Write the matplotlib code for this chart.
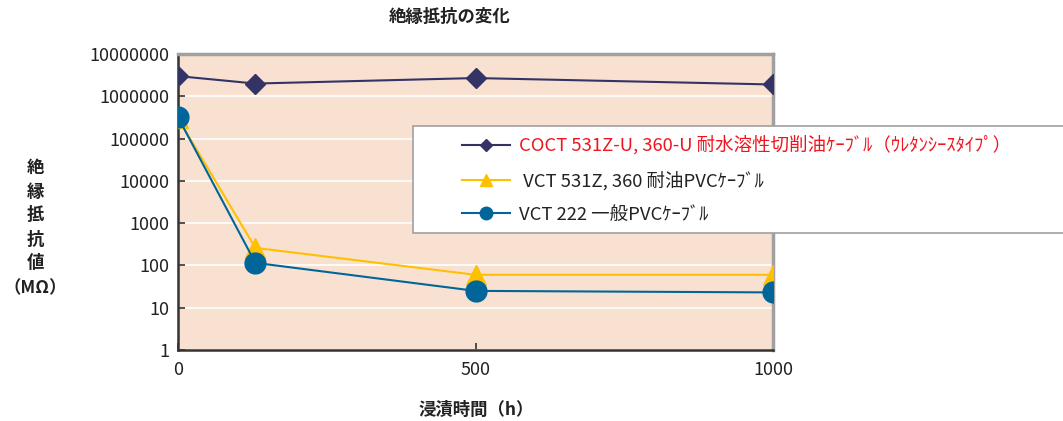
import matplotlib
matplotlib.use('Agg')
import matplotlib.pyplot as plt
from matplotlib.patches import Rectangle
from matplotlib.ticker import FixedLocator, FixedFormatter

plt.rcParams['font.family'] = ['Noto Sans CJK JP', 'DejaVu Sans']

hours = [0, 130, 500, 1000]
coct = [3000000, 2000000, 2700000, 1900000]
vct531 = [300000, 260, 60, 60]
vct222 = [320000, 115, 25, 23]

labels = ['COCT 531Z-U, 360-U 耐水溶性切削油ｹｰﾌﾞﾙ（ｳﾚﾀﾝｼｰｽﾀｲﾌﾟ）',
          ' VCT 531Z, 360 耐油PVCｹｰﾌﾞﾙ',
          'VCT 222 一般PVCｹｰﾌﾞﾙ']
y_ticks = [1, 10, 100, 1000, 10000, 100000, 1000000, 10000000]
x_ticks = [0, 500, 1000]

W, H = 1063, 421
fig = plt.figure(figsize=(W / 100, H / 100), dpi=100)
ax = fig.add_axes([178 / W, 1 - 350 / H, 595 / W, 296 / H])
ax.set_facecolor('#F9E1D1')

ax.plot(hours, coct, color='#333366', lw=1.5, marker='D', ms=10, label=labels[0], zorder=3)
ax.plot(hours, vct531, color='#FFC000', lw=1.5, marker='^', ms=15, label=labels[1], zorder=3)
ax.plot(hours, vct222, color='#006699', lw=1.5, marker='o', ms=15, label=labels[2], zorder=4)

ax.set_yscale('log')
ax.set_ylim(1, 10000000)
ax.set_xlim(0, 1000)
ax.yaxis.set_major_locator(FixedLocator(y_ticks))
ax.yaxis.set_major_formatter(FixedFormatter([str(v) for v in y_ticks]))
ax.yaxis.set_minor_locator(FixedLocator([]))
ax.set_xticks(x_ticks)
ax.set_xticklabels([str(v) for v in x_ticks])
ax.tick_params(axis='both', direction='in', length=5, width=1.2, color='#333333',
               labelsize=13, labelcolor='#222222')
ax.tick_params(axis='x', pad=8)
ax.tick_params(axis='y', pad=6)
ax.grid(axis='y', color='white', lw=1.2)
ax.set_axisbelow(True)
for s in ['left', 'bottom']:
    ax.spines[s].set_color('#333333')
    ax.spines[s].set_linewidth(1.8)
for s in ['top', 'right']:
    ax.spines[s].set_color('#A0A0A0')
    ax.spines[s].set_linewidth(2.5)

fig.text(450 / W, 1 - 17 / H, '絶縁抵抗の変化', ha='center', va='center',
         fontsize=12.5, fontweight='bold', color='#222222')
fig.text(476 / W, 1 - 410 / H, '浸漬時間（h）', ha='center', va='center',
         fontsize=12.5, fontweight='bold', color='#222222')
ylab = ['絶', '縁', '抵', '抗', '値', '（MΩ）']
ypos = [168, 192, 215, 240, 263, 288]
for t, yp in zip(ylab, ypos):
    fig.text(35 / W, 1 - yp / H, t, ha='center', va='center',
             fontsize=12.5, fontweight='bold', color='#222222')

# legend box (runs off the right edge like the original)
box = Rectangle((413 / W, 1 - 233 / H), 700 / W, 107 / H, transform=fig.transFigure,
                facecolor='white', edgecolor='#A0A0A0', lw=1.2, zorder=9, clip_on=False)
ax.add_patch(box)

leg = ax.legend(loc='upper left', bbox_to_anchor=(458 / W, 1 - 132 / H),
                bbox_transform=fig.transFigure, fontsize=13.3, frameon=False,
                markerscale=0.6, handlelength=2.6, handletextpad=0.5,
                borderpad=0.2, labelspacing=0.85, borderaxespad=0)
leg.get_texts()[0].set_color('#F0141E')
for t in leg.get_texts()[1:]:
    t.set_color('#222222')
leg.set_zorder(10)

fig.savefig('out.png', dpi=100)
